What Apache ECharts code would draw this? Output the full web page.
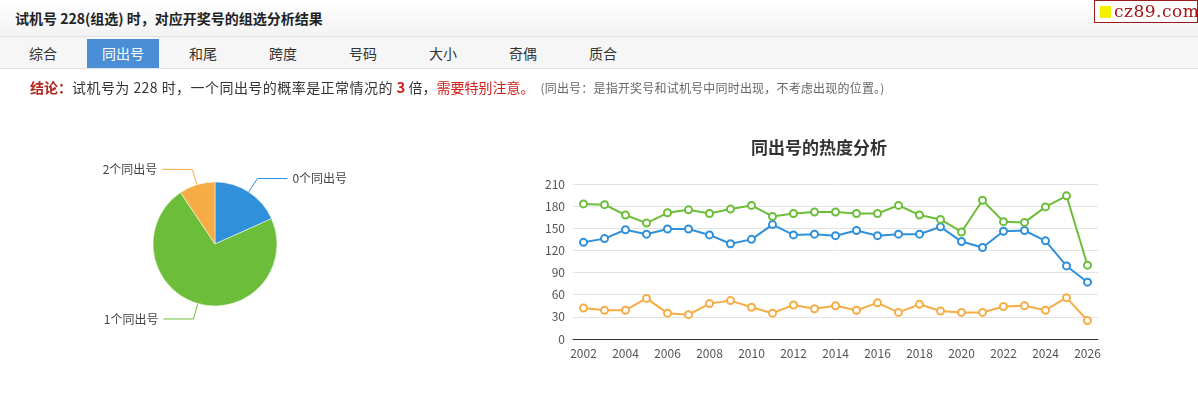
<!DOCTYPE html>
<html>
<head>
<meta charset="utf-8">
<script src="https://cdn.jsdelivr.net/npm/echarts@6/dist/echarts.min.js"></script>
<style>
  html,body{margin:0;padding:0;width:1198px;height:418px;overflow:hidden;background:#fff;
    font-family:"Noto Sans CJK SC","Noto Sans",sans-serif;}
  #chart{position:absolute;left:0;top:0;width:1198px;height:418px;z-index:0;}
  .hdr{position:absolute;left:0;top:0;width:1198px;height:36px;z-index:1;
    background:linear-gradient(#ffffff,#f3f3f3);border-bottom:1px solid #e2e2e2;}
  .hdr .t{position:absolute;left:15px;top:0;line-height:36px;font-size:14px;font-weight:bold;color:#222;}
  .logo{position:absolute;left:1094px;top:0;width:102px;height:21px;border:1px solid #9b1c1c;background:#fff;}
  .logo .sq{position:absolute;left:5px;top:5px;width:11px;height:12px;background:#f5f000;}
  .logo .tx{position:absolute;left:19px;top:-2px;font-family:"DejaVu Serif","Liberation Serif",serif;font-size:17px;color:#a31515;line-height:24px;letter-spacing:0.5px;}
  .tabs{position:absolute;left:0;top:37px;width:1198px;height:31px;z-index:1;background:#f6f6f6;border-bottom:1px solid #dedede;}
  .tab{position:absolute;top:2px;width:72px;height:29px;line-height:29px;text-align:center;font-size:14px;color:#333;}
  .tab.on{background:#4a8fd6;color:#fff;}
  .concl{position:absolute;left:30px;top:76px;z-index:1;font-size:14px;color:#333;white-space:nowrap;line-height:22px;}
  .concl .m{letter-spacing:0.45px;}
  .concl .r1{color:#b3261e;font-weight:bold;}
  .concl .n{color:#d0201a;font-weight:bold;font-size:15px;}
  .concl .r2{color:#d0201a;}
  .concl .g{color:#666;font-size:12px;margin-left:6px;letter-spacing:0.2px;}
</style>
</head>
<body>
<div id="chart"></div>
<div class="hdr"><div class="t">试机号 228(组选) 时，对应开奖号的组选分析结果</div>
  <div class="logo"><div class="sq"></div><div class="tx">cz89.com</div></div>
</div>
<div class="tabs" id="tabs"></div>
<div class="concl"><span class="r1">结论：</span><span class="m">试机号为 228 时，一个同出号的概率是正常情况的 </span><span class="n">3</span> 倍，<span class="r2">需要特别注意。</span><span class="g">(同出号：是指开奖号和试机号中同时出现，不考虑出现的位置。)</span></div>
<script>
const tabNames = ['综合','同出号','和尾','跨度','号码','大小','奇偶','质合'];
const activeTab = 1;

const pieNames = ['0个同出号','1个同出号','2个同出号'];
const pieValues = [183, 723, 94];

const years = ['2002','2003','2004','2005','2006','2007','2008','2009','2010','2011','2012','2013','2014',
  '2015','2016','2017','2018','2019','2020','2021','2022','2023','2024','2025','2026'];
const zeroSame = [131,136,148,142,149,149,141,129,135,155,141,142,140,147,140,142,142,152,132,124,146,147,133,99,77];
const oneSame  = [183,182,168,157,171,175,170,176,181,166,170,172,172,170,170,181,168,162,145,188,159,158,179,194,100];
const twoSame  = [42,39,39,55,35,33,48,52,43,35,46,41,45,39,49,36,47,38,36,36,44,45,39,56,25];
const yTicks = {min:0, max:210, interval:30};

const colors = ['#3090da','#6cbe3a','#f6ad46'];

const tabsEl = document.getElementById('tabs');
tabNames.forEach((n,i)=>{
  const d = document.createElement('div');
  d.className = 'tab' + (i===activeTab ? ' on' : '');
  d.style.left = (7 + 80*i) + 'px';
  d.textContent = n;
  tabsEl.appendChild(d);
});

const chart = echarts.init(document.getElementById('chart'), null, {renderer:'canvas'});
const lineData = [zeroSame, oneSame, twoSame];
chart.setOption({
  animation:false,
  color: colors,
  textStyle:{fontFamily:'"Noto Sans CJK SC","Noto Sans",sans-serif'},
  title:{text:'同出号的热度分析', left:746, top:134,
    textStyle:{fontSize:17, fontWeight:'bold', color:'#333'}},
  grid:{left:573, right:100, top:184, bottom:79},
  xAxis:{type:'category', data:years, boundaryGap:true,
    axisLine:{lineStyle:{color:'#333'}}, axisTick:{show:false},
    axisLabel:{interval:1, color:'#555', fontSize:12}},
  yAxis:{type:'value', min:yTicks.min, max:yTicks.max, interval:yTicks.interval,
    axisLine:{show:false}, axisTick:{show:false},
    axisLabel:{color:'#555', fontSize:12},
    splitLine:{lineStyle:{color:'#e3e3e3'}}},
  series:[
    {type:'pie', center:[215,244], radius:62, startAngle:90, clockwise:true,
      data: pieNames.map((n,i)=>({name:n, value:pieValues[i], itemStyle:{color:colors[i]}})),
      label:{color:'#444', fontSize:12},
      labelLine:{length:16, length2:30},
      itemStyle:{borderColor:'#fff', borderWidth:0.5}
    },
    ...pieNames.map((n,i)=>({
      type:'line', name:n, data:lineData[i],
      symbol:'emptyCircle', symbolSize:7,
      lineStyle:{width:2, color:colors[i]},
      itemStyle:{color:colors[i], borderWidth:2}
    }))
  ]
});
</script>
</body>
</html>
